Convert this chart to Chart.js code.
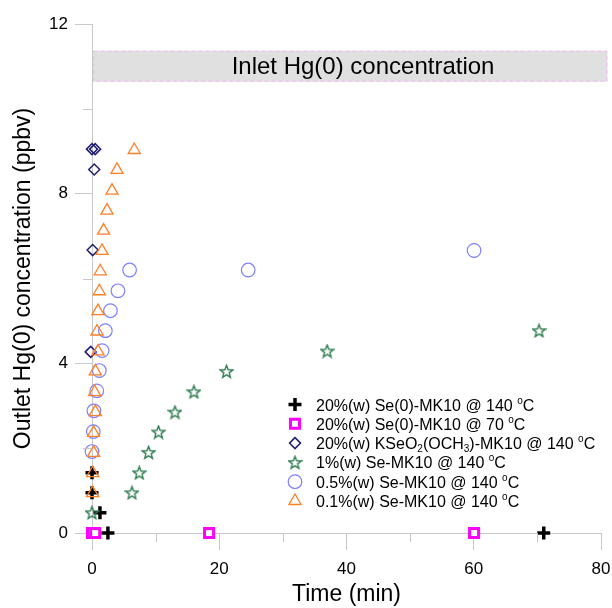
<!DOCTYPE html>
<html lang="en">
<head>
<meta charset="UTF-8">
<title>Outlet Hg(0) concentration</title>
<script src="https://cdn.jsdelivr.net/npm/chart.js"></script>
<style>
  html, body { margin: 0; padding: 0; background: #fff; }
  canvas { display: block; }
</style>
</head>
<body>
<canvas id="hgChart" width="612" height="608"></canvas>
<script>
// legend labels: ^x = superscript char, _x = subscript char
const seriesLabels = [
    '20%(w) Se(0)-MK10 @ 140 ^oC',
    '20%(w) Se(0)-MK10 @ 70 ^oC',
    '20%(w) KSeO_2(OCH_3)-MK10 @ 140 ^oC',
    '1%(w) Se-MK10 @ 140 ^oC',
    '0.5%(w) Se-MK10 @ 140 ^oC',
    '0.1%(w) Se-MK10 @ 140 ^oC'
];

// time (min) / outlet Hg(0) (ppbv)
const se0At140Time = [0, 0, 1.25, 2.5, 71.0];
const se0At140Conc = [1.42, 0.95, 0.48, 0, 0];

const se0At70Time = [0, 0.5, 18.4, 60.05];
const se0At70Conc = [0, 0, 0, 0];

const kseoTime = [0, 0.5, 0.35, 0.1, -0.2];
const kseoConc = [9.05, 9.05, 8.57, 6.67, 4.27];

const se1Time = [0, 6.28, 7.43, 8.89, 10.46, 13.04, 16.02, 21.14, 36.96, 70.26];
const se1Conc = [0.48, 0.95, 1.42, 1.90, 2.38, 2.85, 3.33, 3.81, 4.29, 4.77];

const se05Time = [0, 0.2, 0.3, 0.75, 1.15, 1.6, 2.1, 2.9, 4.08, 5.91, 24.55, 60.05];
const se05Conc = [1.92, 2.39, 2.88, 3.35, 3.83, 4.30, 4.77, 5.24, 5.71, 6.20, 6.20, 6.66];

const se01Time = [0.1, 0.1, 0.25, 0.25, 0.52, 0.41, 0.52, 0.94, 0.79, 0.94, 1.15, 1.3, 1.57, 1.82, 2.36, 3.14, 3.93, 6.64];
const se01Conc = [0.94, 1.41, 1.89, 2.36, 2.85, 3.32, 3.81, 4.28, 4.75, 5.23, 5.70, 6.17, 6.65, 7.13, 7.60, 8.07, 8.56, 9.03];

// inlet band (ppbv) and its time span
const inletLow = 10.64;
const inletHigh = 11.37;
const inletSpan = [0, 81];
const inletLabel = 'Inlet Hg(0) concentration';
const inletLabelAt = 42.6;

const xTicksShown = [0, 20, 40, 60, 80];
const yTicksShown = [0, 4, 8, 12];

const FONT = '"Liberation Sans", Arial, sans-serif';
const AXIS_GRAY = '#c8c8c8';

function pairs(xs, ys) {
    return xs.map((x, i) => ({ x: x, y: ys[i] }));
}

// open five point star for the 1% series
function makeStar() {
    const c = document.createElement('canvas');
    c.width = 15; c.height = 15;
    const g = c.getContext('2d');
    g.strokeStyle = '#2f7d50';
    g.lineWidth = 1.4;
    g.beginPath();
    for (let k = 0; k < 10; k++) {
        const r = k % 2 === 0 ? 6.6 : 2.8;
        const a = -Math.PI / 2 + k * Math.PI / 5;
        const px = 7.5 + r * Math.cos(a), py = 8 + r * Math.sin(a);
        if (k === 0) g.moveTo(px, py); else g.lineTo(px, py);
    }
    g.closePath();
    g.stroke();
    return c;
}
const starImg = makeStar();

function drawRich(ctx, text, x, y) {
    let cx = x;
    const base = y + 6;
    ctx.fillStyle = '#000';
    ctx.textBaseline = 'alphabetic';
    ctx.textAlign = 'left';
    for (let i = 0; i < text.length; i++) {
        let ch = text[i];
        let dy = 0;
        if (ch === '^' || ch === '_') {
            dy = ch === '^' ? -7 : 3;
            ch = text[++i];
            ctx.font = '10px ' + FONT;
        } else {
            ctx.font = '16px ' + FONT;
        }
        ctx.fillText(ch, cx, base + dy);
        cx += ctx.measureText(ch).width;
    }
}

const inletBand = {
    id: 'inletBand',
    beforeDatasetsDraw(chart) {
        const { ctx, scales: { x, y } } = chart;
        const l = x.getPixelForValue(inletSpan[0]) + 1;
        const r = x.getPixelForValue(inletSpan[1]);
        const t = y.getPixelForValue(inletHigh);
        const b = y.getPixelForValue(inletLow);
        ctx.save();
        ctx.fillStyle = '#e0e0e0';
        ctx.fillRect(l, t, r - l, b - t);
        ctx.strokeStyle = '#f2b8f2';
        ctx.lineWidth = 1;
        ctx.setLineDash([4, 3]);
        ctx.strokeRect(l + 0.5, t + 0.5, r - l - 1, b - t - 1);
        ctx.setLineDash([]);
        ctx.fillStyle = '#000';
        ctx.font = '24px ' + FONT;
        ctx.textAlign = 'center';
        ctx.textBaseline = 'middle';
        ctx.fillText(inletLabel, x.getPixelForValue(inletLabelAt), (t + b) / 2 + 1);
        ctx.restore();
    }
};

// short minor ticks (2,6,10 and 10,30,50,70)
const minorTicks = {
    id: 'minorTicks',
    afterDraw(chart) {
        const { ctx, scales: { x, y } } = chart;
        ctx.save();
        ctx.strokeStyle = AXIS_GRAY;
        ctx.lineWidth = 1;
        ctx.beginPath();
        x.ticks.forEach(t => {
            if (xTicksShown.includes(t.value)) return;
            const px = Math.round(x.getPixelForValue(t.value)) + 0.5;
            ctx.moveTo(px, x.top);
            ctx.lineTo(px, x.top + 9);
        });
        y.ticks.forEach(t => {
            if (yTicksShown.includes(t.value)) return;
            const py = Math.round(y.getPixelForValue(t.value)) + 0.5;
            ctx.moveTo(y.right - 9, py);
            ctx.lineTo(y.right, py);
        });
        ctx.stroke();
        ctx.restore();
    }
};

const sideLegend = {
    id: 'sideLegend',
    afterDraw(chart) {
        const { ctx, chartArea } = chart;
        const mx = chartArea.left + 203;
        const my = chartArea.top + 380.5;
        chart.data.datasets.forEach((ds, i) => {
            const yy = my + i * 19.3;
            ctx.save();
            ctx.strokeStyle = ds.borderColor;
            ctx.fillStyle = ds.backgroundColor;
            ctx.lineWidth = ds.borderWidth;
            Chart.helpers.drawPoint(ctx, {
                pointStyle: ds.pointStyle, radius: ds.pointRadius,
                rotation: 0, borderWidth: ds.borderWidth
            }, mx, yy);
            ctx.restore();
            ctx.save();
            drawRich(ctx, seriesLabels[i], mx + 21, yy);
            ctx.restore();
        });
    }
};

function series(i, data, style, color, fill, radius, width) {
    return {
        label: seriesLabels[i],
        data: data,
        pointStyle: style,
        borderColor: color,
        backgroundColor: fill,
        pointRadius: radius,
        borderWidth: width,
        showLine: false,
        order: 5 - i,
        clip: false
    };
}

new Chart(document.getElementById('hgChart'), {
    type: 'scatter',
    data: {
        datasets: [
            series(0, pairs(se0At140Time, se0At140Conc), 'cross', '#000000', '#000000', 6.5, 3.5),
            series(1, pairs(se0At70Time, se0At70Conc), 'rect', '#ff00ff', '#ffffff', 6.4, 3),
            series(2, pairs(kseoTime, kseoConc), 'rectRot', '#1f1f72', 'rgba(0,0,0,0)', 5.5, 1.5),
            series(3, pairs(se1Time, se1Conc), starImg, '#2f7d50', 'rgba(0,0,0,0)', 7, 1.3),
            series(4, pairs(se05Time, se05Conc), 'circle', '#8080ff', 'rgba(0,0,0,0)', 6.8, 1.2),
            series(5, pairs(se01Time, se01Conc), 'triangle', '#ff7f27', 'rgba(0,0,0,0)', 7, 1.3)
        ]
    },
    options: {
        responsive: false,
        animation: false,
        devicePixelRatio: 1,
        layout: { padding: { left: 0, right: 11, top: 24, bottom: 0 } },
        plugins: {
            legend: { display: false },
            tooltip: { enabled: false }
        },
        scales: {
            x: {
                type: 'linear',
                min: 0,
                max: 80,
                afterFit: s => { s.height = 75; s.paddingRight = 0; s.paddingLeft = 0; },
                border: { color: AXIS_GRAY, width: 1 },
                grid: {
                    drawOnChartArea: false,
                    tickLength: 17,
                    tickColor: c => (c.tick && xTicksShown.includes(c.tick.value)) ? AXIS_GRAY : 'rgba(0,0,0,0)'
                },
                ticks: {
                    stepSize: 10,
                    autoSkip: false,
                    maxRotation: 0,
                    padding: 9,
                    color: '#000',
                    font: { family: FONT, size: 17 },
                    callback: v => xTicksShown.includes(v) ? String(v) : ''
                },
                title: {
                    display: true,
                    text: 'Time (min)',
                    color: '#000',
                    font: { family: FONT, size: 23 },
                    padding: { top: 0, bottom: 0 }
                }
            },
            y: {
                type: 'linear',
                min: 0,
                max: 12,
                afterFit: s => { s.width = 92; },
                border: { color: AXIS_GRAY, width: 1 },
                grid: {
                    drawOnChartArea: false,
                    tickLength: 17,
                    tickColor: c => (c.tick && yTicksShown.includes(c.tick.value)) ? AXIS_GRAY : 'rgba(0,0,0,0)'
                },
                ticks: {
                    stepSize: 2,
                    autoSkip: false,
                    padding: 7,
                    color: '#000',
                    font: { family: FONT, size: 17 },
                    callback: v => yTicksShown.includes(v) ? String(v) : ''
                },
                title: {
                    display: true,
                    text: 'Outlet Hg(0) concentration (ppbv)',
                    color: '#000',
                    font: { family: FONT, size: 23 },
                    padding: { top: 10, bottom: 0 }
                }
            }
        }
    },
    plugins: [inletBand, minorTicks, sideLegend]
});
</script>
</body>
</html>
